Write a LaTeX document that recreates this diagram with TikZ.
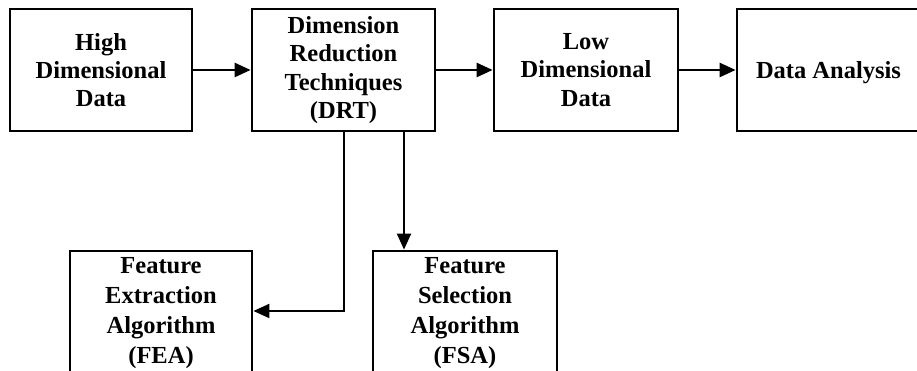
\documentclass[tikz,border=0pt]{standalone}
\usepackage{fontspec}
\setmainfont{Liberation Serif}
\usetikzlibrary{arrows.meta}
\begin{document}
\begin{tikzpicture}[x=1pt,y=1pt,
  box/.style={draw,line width=2.8pt,inner sep=0pt,align=center,
    font=\fontsize{24.5}{28.3}\selectfont\bfseries},
  lowbox/.style={box,font=\fontsize{24.5}{30}\selectfont\bfseries},
  arr/.style={line width=2.6pt,-{Triangle[length=16pt,width=14pt]}},
  thin/.style={line width=2pt,-{Triangle[length=16pt,width=14pt]}}]
\useasboundingbox (0,0) rectangle (917,371);
\clip (0,0) rectangle (917,371);
\node[box,minimum width=182pt,minimum height=122pt] (hd) at (101,301) {High\\Dimensional\\Data};
\node[box,minimum width=183pt,minimum height=122pt] (drt) at (343.5,301) {Dimension\\Reduction\\Techniques\\(DRT)};
\node[box,minimum width=184pt,minimum height=122pt] (ld) at (586,301) {Low\\Dimensional\\Data};
\node[box,minimum width=183pt,minimum height=122pt] (da) at (828.5,301) {\raisebox{-9pt}[0pt][0pt]{Data Analysis}};
\node[lowbox,minimum width=182pt,minimum height=124pt] (fea) at (161,58) {Feature\\Extraction\\Algorithm\\(FEA)};
\node[lowbox,minimum width=184pt,minimum height=124pt] (fsa) at (465,58) {Feature\\Selection\\Algorithm\\(FSA)};
\draw[arr] (hd) -- (drt);
\draw[arr] (drt) -- (ld);
\draw[arr] (ld) -- (da);
\draw[thin] (drt.south) |- ([yshift=2pt]fea.east);
\coordinate (b) at ([xshift=60.5pt]drt.south);
\draw[thin] (b) -- (b |- fsa.north);
\end{tikzpicture}
\end{document}
